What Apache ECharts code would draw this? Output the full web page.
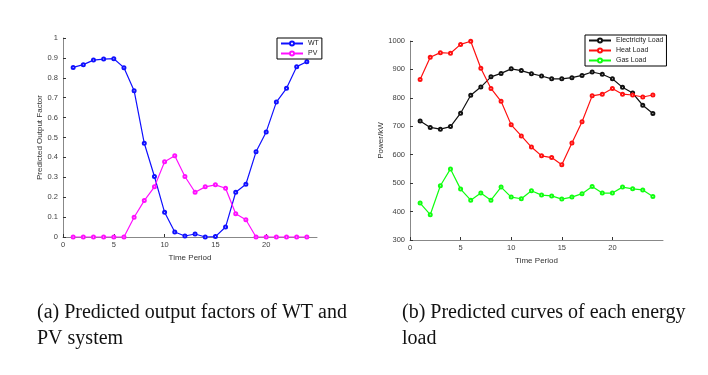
<!DOCTYPE html>
<html>
<head>
<meta charset="utf-8">
<script src="https://cdn.jsdelivr.net/npm/echarts@6/dist/echarts.min.js"></script>
<style>
  html, body { margin: 0; padding: 0; background: #fff; }
  #chart { width: 708px; height: 375px; }
</style>
</head>
<body>
<div id="chart"></div>
<script>
var period = [1, 2, 3, 4, 5, 6, 7, 8, 9, 10, 11, 12, 13, 14, 15, 16, 17, 18, 19, 20, 21, 22, 23, 24];
// (a) output factors
var wt = [0.852, 0.866, 0.889, 0.894, 0.896, 0.851, 0.735, 0.471, 0.304, 0.124, 0.025, 0.005,
          0.015, 0.0, 0.002, 0.05, 0.225, 0.265, 0.428, 0.528, 0.678, 0.747, 0.856, 0.881];
var pv = [0, 0, 0, 0, 0, 0, 0.099, 0.183, 0.252, 0.378, 0.408, 0.304,
          0.225, 0.252, 0.262, 0.245, 0.117, 0.087, 0, 0, 0, 0, 0, 0];
// (b) energy loads, kW
var elecLoad = [719, 696, 690, 699, 746, 809, 838, 874, 886, 902, 896, 885,
                877, 867, 867, 871, 879, 891, 883, 867, 837, 817, 774, 745];
var heatLoad = [865, 943, 959, 957, 988, 999, 904, 833, 788, 705, 666, 627,
                596, 590, 565, 641, 716, 807, 813, 833, 813, 810, 803, 810];
var gasLoad = [430, 389, 491, 550, 479, 440, 465, 440, 486, 451, 445, 473,
               458, 455, 444, 451, 463, 488, 465, 465, 486, 480, 476, 453];

function pairs(vals) {
    return period.map(function (p, i) { return [p, vals[i]]; });
}

var font = 'Liberation Sans';
var tickColor = '#404040';

function xAx(idx) {
    return {
        gridIndex: idx, type: 'value', min: 0, max: 25, interval: 5,
        name: 'Time Period', nameLocation: 'middle', nameGap: 12,
        nameTextStyle: { fontFamily: font, fontSize: 8, color: '#333' },
        axisLine: { lineStyle: { color: '#888', width: 1 } },
        axisTick: { inside: true, length: 3, lineStyle: { color: '#333' } },
        axisLabel: { fontFamily: font, fontSize: 7.5, color: tickColor, margin: 4, showMaxLabel: false },
        splitLine: { show: false }
    };
}

function yAx(idx, lo, hi, step, name, gap) {
    return {
        gridIndex: idx, type: 'value', min: lo, max: hi, interval: step,
        name: name, nameLocation: 'middle', nameGap: gap,
        nameTextStyle: { fontFamily: font, fontSize: 8, color: '#333' },
        axisLine: { show: true, lineStyle: { color: '#888', width: 1 } },
        axisTick: { show: true, inside: true, length: 3, lineStyle: { color: '#333' } },
        axisLabel: { fontFamily: font, fontSize: 7.5, color: tickColor, margin: 5,
                     formatter: function (v) { return String(v); } },
        splitLine: { show: false }
    };
}

function line(name, data, color, xi) {
    return {
        name: name, type: 'line', xAxisIndex: xi, yAxisIndex: xi,
        data: pairs(data), symbol: 'emptyCircle', symbolSize: 3,
        lineStyle: { color: color, width: 1.2 },
        itemStyle: { color: color, borderWidth: 0.9 },
        animation: false
    };
}

function legendBox(names, x, y) {
    return {
        data: names, orient: 'vertical', left: x, top: y,
        itemWidth: 22, itemHeight: 5, itemGap: 3, padding: [2, 3, 2, 3],
        borderColor: '#000', borderWidth: 1, backgroundColor: '#fff',
        textStyle: { fontFamily: font, fontSize: 7, color: '#222' }
    };
}

var chart = echarts.init(document.getElementById('chart'));
chart.setOption({
    backgroundColor: '#fff',
    grid: [
        { left: 63, right: 391, top: 38, bottom: 138 },
        { left: 410, right: 45, top: 41, bottom: 135 }
    ],
    xAxis: [xAx(0), xAx(1)],
    yAxis: [
        yAx(0, 0, 1, 0.1, 'Predicted Output Factor', 17),
        yAx(1, 300, 1000, 100, 'Power/kW', 21)
    ],
    legend: [
        legendBox(['WT', 'PV'], 277, 38),
        legendBox(['Electricity Load', 'Heat Load', 'Gas Load'], 585, 35)
    ],
    title: [
        {
            text: '(a) Predicted output factors of WT and\nPV system',
            left: 37, top: 300, padding: 0,
            textStyle: { fontFamily: 'Liberation Serif', fontSize: 20, fontWeight: 'normal', color: '#111', lineHeight: 26 }
        },
        {
            text: '(b) Predicted curves of each energy\nload',
            left: 402, top: 300, padding: 0,
            textStyle: { fontFamily: 'Liberation Serif', fontSize: 20, fontWeight: 'normal', color: '#111', lineHeight: 26 }
        }
    ],
    series: [
        line('WT', wt, '#1010ff', 0),
        line('PV', pv, '#ff10ff', 0),
        line('Electricity Load', elecLoad, '#111111', 1),
        line('Heat Load', heatLoad, '#ff1010', 1),
        line('Gas Load', gasLoad, '#10ff10', 1)
    ]
});
</script>
</body>
</html>
